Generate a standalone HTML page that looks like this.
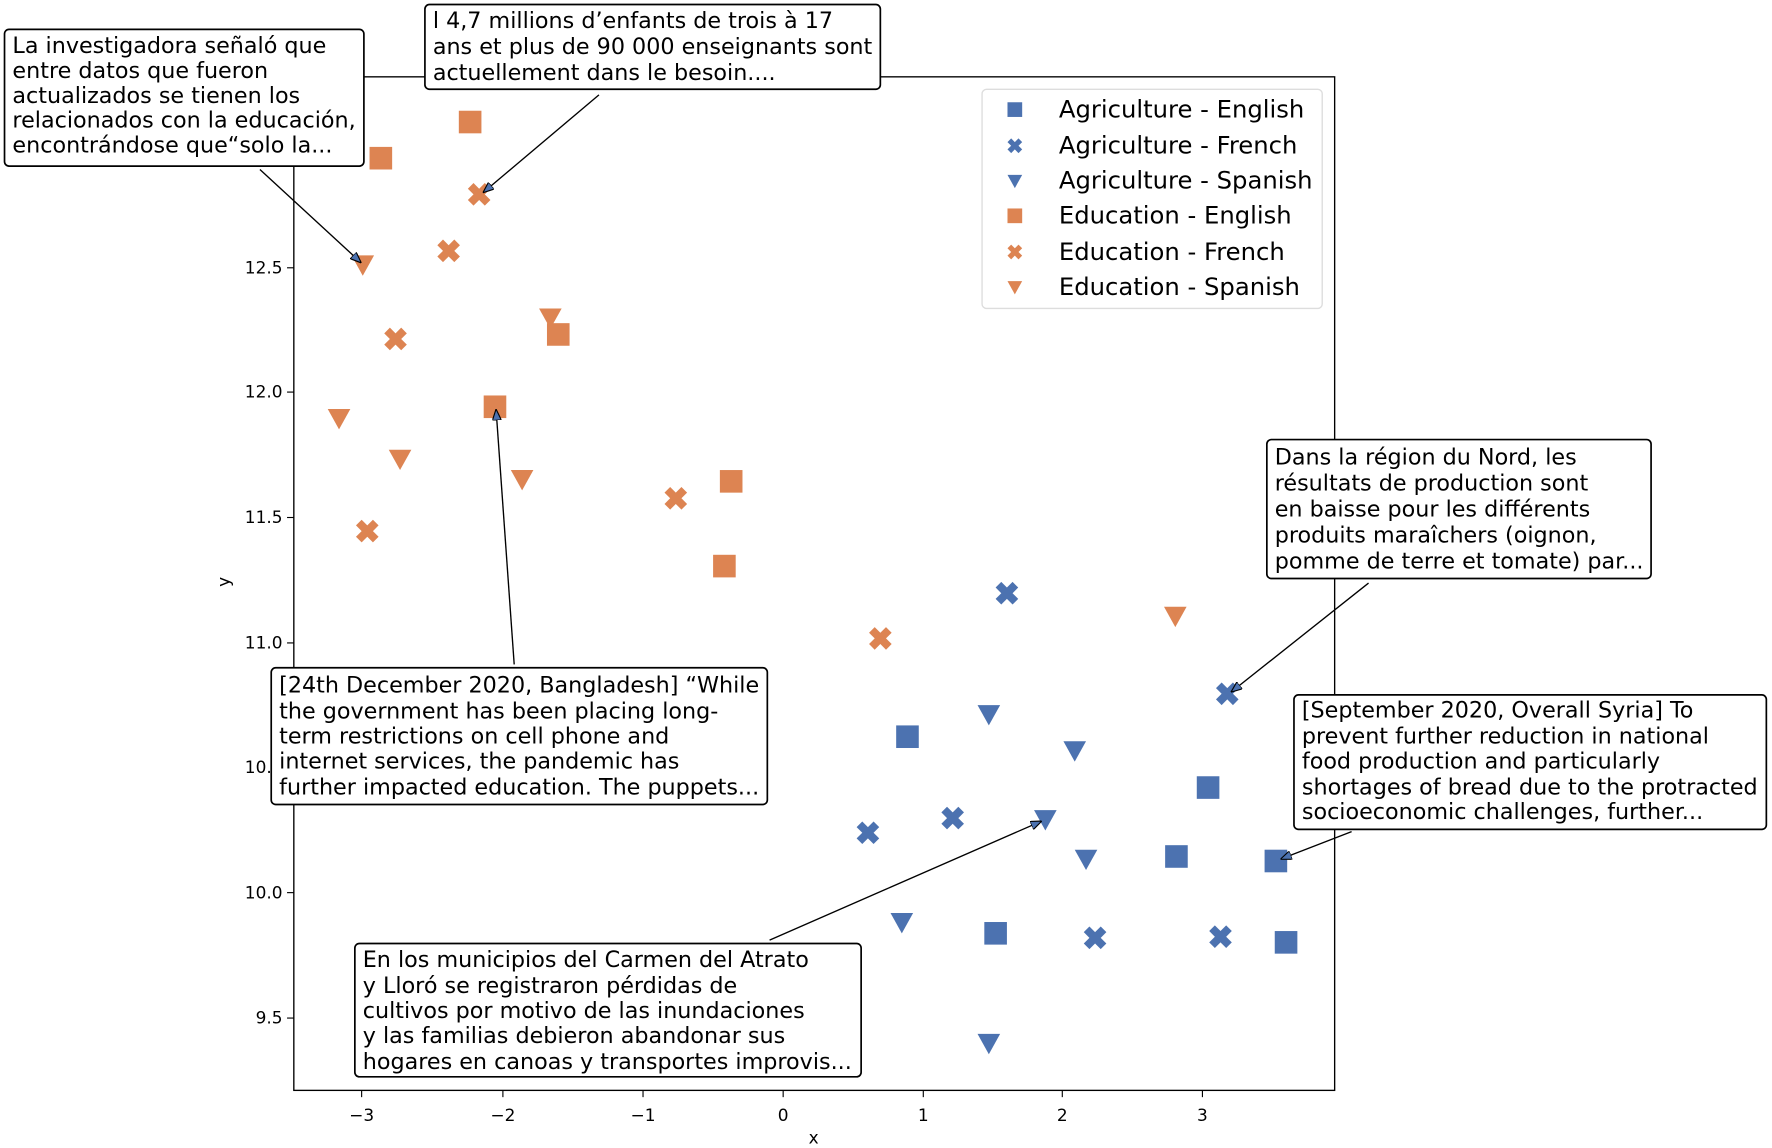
<!DOCTYPE html>
<html><head><meta charset="utf-8"><style>
html,body{margin:0;padding:0;background:#fff}
svg{display:block}
text{font-family:"DejaVu Sans","Liberation Sans",sans-serif;fill:#000}
.a{font-size:19.7px}
.t{font-size:15px}
.l{font-size:21.5px}
</style></head><body>
<svg width="1772" height="1148" viewBox="0 0 1568 1016" preserveAspectRatio="none" xmlns="http://www.w3.org/2000/svg">
<defs>
<g id="sq"><rect x="-10" y="-10" width="20" height="20"/></g>
<g id="xx"><path d="M-10,-5 L-5,-10 L0,-5 L5,-10 L10,-5 L5,0 L10,5 L5,10 L0,5 L-5,10 L-10,5 L-5,0Z"/></g>
<g id="tr"><path d="M-10,-8 L10,-8 L0,10Z"/></g>
<marker id="ah" markerWidth="10" markerHeight="8" refX="9" refY="4" orient="auto" markerUnits="userSpaceOnUse"><path d="M0,0 L10,4 L0,8Z" fill="#4c72b0" stroke="#000" stroke-width="1"/></marker>
</defs>
<rect x="260" y="68" width="921" height="897" fill="none" stroke="#000" stroke-width="1.2"/>
<g stroke="#000" stroke-width="1">
<line x1="320" y1="965" x2="320" y2="971"/><line x1="445" y1="965" x2="445" y2="971"/><line x1="569" y1="965" x2="569" y2="971"/><line x1="693" y1="965" x2="693" y2="971"/><line x1="817" y1="965" x2="817" y2="971"/><line x1="940" y1="965" x2="940" y2="971"/><line x1="1064" y1="965" x2="1064" y2="971"/>
<line x1="254" y1="237" x2="260" y2="237"/><line x1="254" y1="347" x2="260" y2="347"/><line x1="254" y1="458" x2="260" y2="458"/><line x1="254" y1="569" x2="260" y2="569"/><line x1="254" y1="679" x2="260" y2="679"/><line x1="254" y1="790" x2="260" y2="790"/><line x1="254" y1="901" x2="260" y2="901"/>
</g>
<g class="t" text-anchor="middle">
<text x="320" y="992">−3</text><text x="445" y="992">−2</text><text x="569" y="992">−1</text><text x="693" y="992">0</text><text x="817" y="992">1</text><text x="940" y="992">2</text><text x="1064" y="992">3</text>
</g>
<g class="t" text-anchor="end">
<text x="250" y="242">12.5</text><text x="250" y="352">12.0</text><text x="250" y="463">11.5</text><text x="250" y="574">11.0</text><text x="250" y="684">10.5</text><text x="250" y="795">10.0</text><text x="250" y="906">9.5</text>
</g>
<text class="t" x="720" y="1012" text-anchor="middle">x</text>
<text class="t" x="203" y="515" text-anchor="middle" transform="rotate(-90 203 515)">y</text>
<g fill="#dd8452">
<use href="#sq" x="416" y="108"/><use href="#sq" x="337" y="140"/><use href="#sq" x="494" y="296"/><use href="#sq" x="438" y="360"/><use href="#sq" x="647" y="426"/><use href="#sq" x="641" y="501"/>
<use href="#xx" x="424" y="172"/><use href="#xx" x="397" y="222"/><use href="#xx" x="350" y="300"/><use href="#xx" x="325" y="470"/><use href="#xx" x="598" y="441"/><use href="#xx" x="779" y="565"/>
<use href="#tr" x="321" y="234"/><use href="#tr" x="487" y="281"/><use href="#tr" x="300" y="370"/><use href="#tr" x="354" y="406"/><use href="#tr" x="462" y="424"/><use href="#tr" x="1040" y="545"/>
</g>
<g fill="#4c72b0">
<use href="#sq" x="803" y="652"/><use href="#sq" x="1069" y="697"/><use href="#sq" x="1041" y="758"/><use href="#sq" x="1129" y="762"/><use href="#sq" x="881" y="826"/><use href="#sq" x="1138" y="834"/>
<use href="#xx" x="891" y="525"/><use href="#xx" x="1086" y="614"/><use href="#xx" x="768" y="737"/><use href="#xx" x="843" y="724"/><use href="#xx" x="969" y="830"/><use href="#xx" x="1080" y="829"/>
<use href="#tr" x="875" y="632"/><use href="#tr" x="951" y="664"/><use href="#tr" x="925" y="725"/><use href="#tr" x="961" y="760"/><use href="#tr" x="798" y="816"/><use href="#tr" x="875" y="923"/>
</g>
<rect x="869" y="79" width="301" height="194" rx="4" fill="#fff" stroke="#ddd" stroke-width="1.2"/>
<g transform="translate(898,97) scale(0.65)" fill="#4c72b0"><use href="#sq"/></g>
<g transform="translate(898,129) scale(0.65)" fill="#4c72b0"><use href="#xx"/></g>
<g transform="translate(898,160) scale(0.65)" fill="#4c72b0"><use href="#tr"/></g>
<g transform="translate(898,191) scale(0.65)" fill="#dd8452"><use href="#sq"/></g>
<g transform="translate(898,223) scale(0.65)" fill="#dd8452"><use href="#xx"/></g>
<g transform="translate(898,254) scale(0.65)" fill="#dd8452"><use href="#tr"/></g>
<g class="l">
<text x="937" y="104">Agriculture - English</text><text x="937" y="136">Agriculture - French</text><text x="937" y="167">Agriculture - Spanish</text><text x="937" y="198">Education - English</text><text x="937" y="230">Education - French</text><text x="937" y="261">Education - Spanish</text>
</g>
<g stroke="#000" stroke-width="1.2" marker-end="url(#ah)">
<line x1="230" y1="150" x2="319" y2="232"/>
<line x1="530" y1="84" x2="428" y2="170"/>
<line x1="455" y1="588" x2="439" y2="363"/>
<line x1="1211" y1="516" x2="1090" y2="612"/>
<line x1="1196" y1="736" x2="1134" y2="760"/>
<line x1="681" y1="832" x2="921" y2="727"/>
</g>
<g fill="#fff" stroke="#000" stroke-width="1.5">
<rect x="4" y="26" width="318" height="121" rx="4"/>
<rect x="376" y="4" width="403" height="75" rx="4"/>
<rect x="1121" y="389" width="340" height="123" rx="4"/>
<rect x="1145" y="615" width="418" height="119" rx="4"/>
<rect x="240" y="591" width="439" height="121" rx="4"/>
<rect x="314" y="835" width="448" height="118" rx="4"/>
</g>
<g class="a">
<text x="11" y="47">La investigadora señaló que</text><text x="11" y="69">entre datos que fueron</text><text x="11" y="91">actualizados se tienen los</text><text x="11" y="113">relacionados con la educación,</text><text x="11" y="135">encontrándose que“solo la...</text>
<text x="383" y="25">l 4,7 millions d’enfants de trois à 17</text><text x="383" y="48">ans et plus de 90 000 enseignants sont</text><text x="383" y="71">actuellement dans le besoin....</text>
<text x="1128" y="411">Dans la région du Nord, les</text><text x="1128" y="434">résultats de production sont</text><text x="1128" y="457">en baisse pour les différents</text><text x="1128" y="480">produits maraîchers (oignon,</text><text x="1128" y="503">pomme de terre et tomate) par...</text>
<text x="1152" y="635">[September 2020, Overall Syria] To</text><text x="1152" y="658">prevent further reduction in national</text><text x="1152" y="680">food production and particularly</text><text x="1152" y="703">shortages of bread due to the protracted</text><text x="1152" y="725">socioeconomic challenges, further...</text>
<text x="247" y="613">[24th December 2020, Bangladesh] “While</text><text x="247" y="636">the government has been placing long-</text><text x="247" y="658">term restrictions on cell phone and</text><text x="247" y="680">internet services, the pandemic has</text><text x="247" y="703">further impacted education. The puppets...</text>
<text x="321" y="856">En los municipios del Carmen del Atrato</text><text x="321" y="879">y Lloró se registraron pérdidas de</text><text x="321" y="901">cultivos por motivo de las inundaciones</text><text x="321" y="923">y las familias debieron abandonar sus</text><text x="321" y="946">hogares en canoas y transportes improvis...</text>
</g>
</svg>
</body></html>
